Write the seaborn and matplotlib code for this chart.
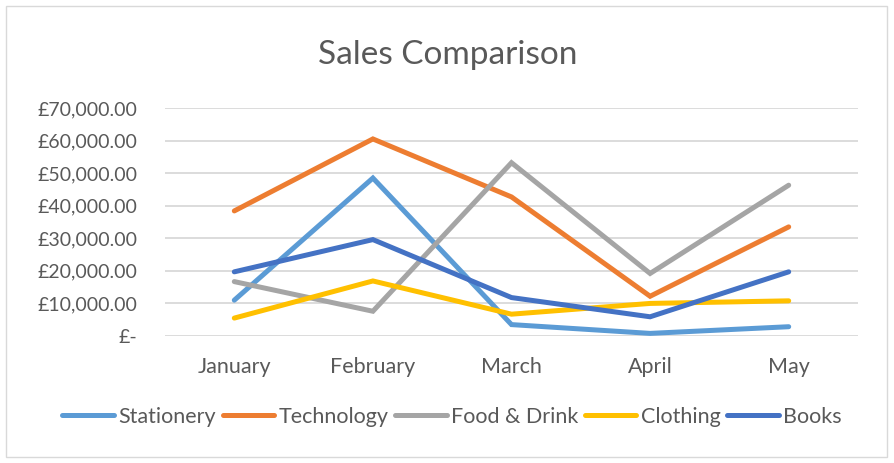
import matplotlib
matplotlib.use("Agg")
import matplotlib.pyplot as plt
import seaborn as sns
import pandas as pd
from matplotlib.ticker import FuncFormatter
from matplotlib.patches import Rectangle
from matplotlib.lines import Line2D

months = ["January", "February", "March", "April", "May"]
stationery = [11000, 48500, 3500, 800, 2850]
technology = [38400, 60500, 42700, 12200, 33500]
food_drink = [16700, 7600, 53200, 19200, 46300]
clothing = [5500, 16900, 6700, 10000, 10800]
books = [19700, 29600, 11800, 5900, 19700]
series_names = ["Stationery", "Technology", "Food & Drink", "Clothing", "Books"]
colors = ["#5B9BD5", "#ED7D31", "#A5A5A5", "#FFC000", "#4472C4"]

rows = []
for name, vals in zip(series_names, [stationery, technology, food_drink, clothing, books]):
    for i, (m, v) in enumerate(zip(months, vals)):
        rows.append({"Month": m, "idx": i, "Sales": v, "Category": name})
df = pd.DataFrame(rows)

sns.set_theme(style="white")
plt.rcParams['font.family'] = ['Lato', 'DejaVu Sans']

fig = plt.figure(figsize=(8.95, 4.63), dpi=100)
ax = fig.add_axes([165/895, 1-336/463, (858-165)/895, (336-108)/463])

sns.lineplot(data=df, x="idx", y="Sales", hue="Category", hue_order=series_names,
             palette=colors, linewidth=3.6, ax=ax, legend=False, sort=False,
             solid_capstyle="round", solid_joinstyle="miter")

ax.set_xlim(-0.5, 4.5)
ax.set_ylim(0, 70000)
ax.set_yticks(range(0, 70001, 10000))
ax.set_xticks(range(len(months)))
ax.set_xticklabels(months)

def fmt(v, pos):
    if v == 0:
        return "£-"
    return "£{:,.2f}".format(v)
ax.yaxis.set_major_formatter(FuncFormatter(fmt))

ax.grid(axis="y", color="#D9D9D9", linewidth=1.3)
ax.set_axisbelow(True)
for s in ax.spines.values():
    s.set_visible(False)
ax.tick_params(axis="y", length=0, pad=20, labelsize=14, labelcolor="#595959")
ax.tick_params(axis="x", length=0, pad=15, labelsize=15.5, labelcolor="#595959")
ax.set_xlabel("")
ax.set_ylabel("")

fig.text(448/895, 1-55/463, "Sales Comparison", ha="center", va="center",
         fontsize=24, color="#595959")

handles = [Line2D([0], [0], color=c, linewidth=3.6, solid_capstyle="round") for c in colors]
fig.legend(handles, series_names, loc="center", bbox_to_anchor=(452/895, 1-417/463),
           ncol=5, frameon=False, fontsize=15.5, labelcolor="#595959",
           handlelength=2.4, handletextpad=0.2, columnspacing=0.3)

fig.patches.append(Rectangle((6/895, 6/463), 881/895, 451/463, transform=fig.transFigure,
                             fill=False, edgecolor="#D9D9D9", linewidth=1))

fig.savefig("out.png", dpi=100)
